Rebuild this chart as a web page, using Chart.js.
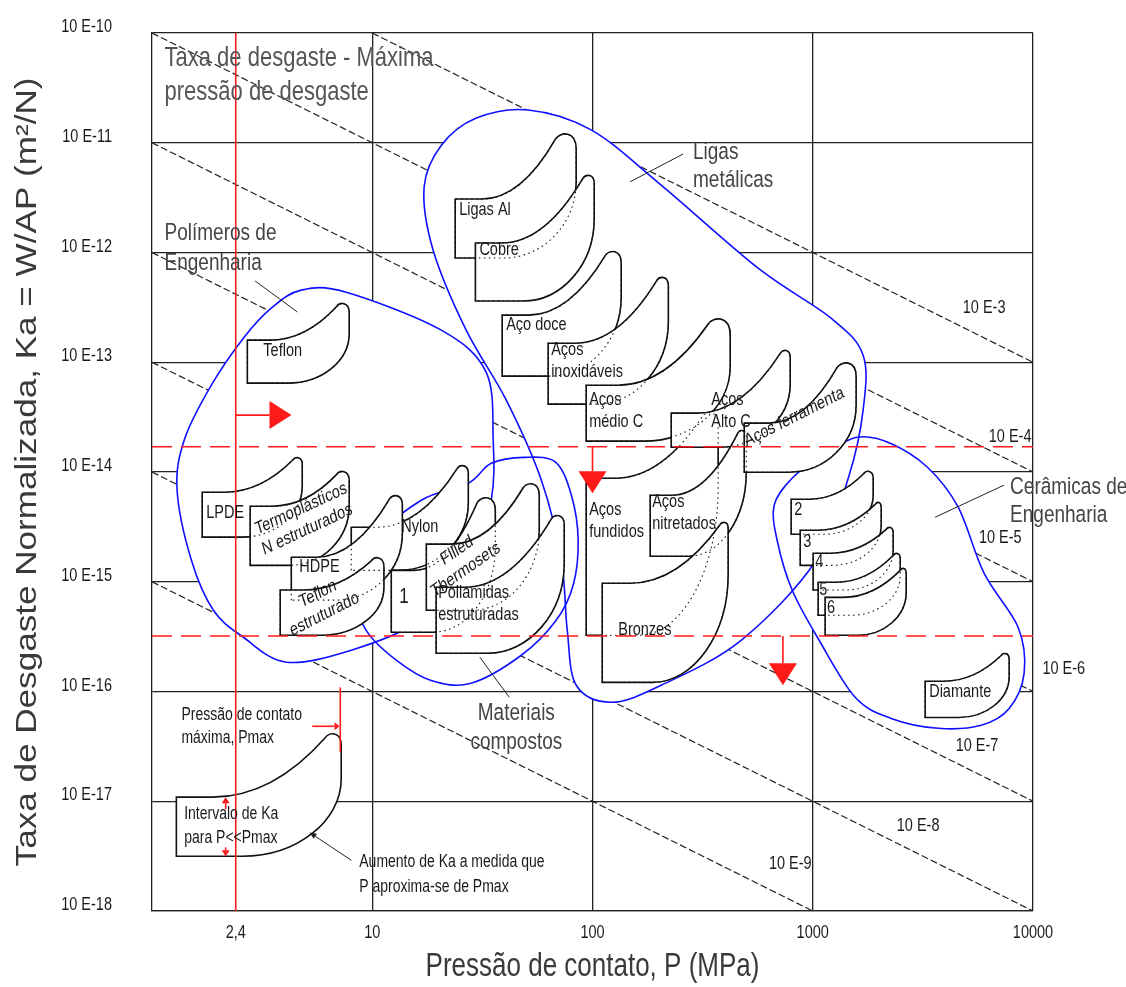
<!DOCTYPE html>
<html>
<head>
<meta charset="utf-8">
<script src="https://cdn.jsdelivr.net/npm/chart.js@4.4.1/dist/chart.umd.min.js"></script>
<style>
  body { margin: 0; background: #fff; }
</style>
</head>
<body>
<canvas id="chart" width="1126" height="987"></canvas>
<script>
const FONT = '"Liberation Sans", Arial, sans-serif';

// axes
const xTicks = [2.4, 10, 100, 1000, 10000];
const xTickLabels = ["2,4", "10", "100", "1000", "10000"];
const yTicks = [1e-10, 1e-11, 1e-12, 1e-13, 1e-14, 1e-15, 1e-16, 1e-17, 1e-18];
const yTickLabels = ["10 E-10", "10 E-11", "10 E-12", "10 E-13", "10 E-14", "10 E-15", "10 E-16", "10 E-17", "10 E-18"];

// lines of constant wear rate Ka*P
const isoLabels = ["10 E-3", "10 E-4", "10 E-5", "10 E-6", "10 E-7", "10 E-8", "10 E-9"];
const isoStart = [[10, 1e-10], [1, 1e-10], [1, 1e-11], [1, 1e-12], [1, 1e-13], [1, 1e-14], [1, 1e-15]];
const isoEnd = [[1e4, 1e-13], [1e4, 1e-14], [1e4, 1e-15], [1e4, 1e-16], [1e4, 1e-17], [1e4, 1e-18], [1000, 1e-18]];
const isoLabelAt = [[6000, 3.1e-13], [7870, 2.07e-14], [7100, 2.5e-15], [13800, 1.6e-16], [5570, 3.16e-17], [3010, 5.9e-18], [791, 2.66e-18]];

// materials (drawn back to front); first one is the key example
const materialLabels = ["", "Teflon", "LPDE", "Termoplásticos\nN estruturados", "Nylon", "HDPE", "Teflon\nestruturado", "1",
  "Filled\nThermosets", "Poliamidas\nestruturadas", "Ligas Al", "Cobre", "Aço doce", "Aços\ninoxidáveis", "Aços\nmédio C",
  "Aços\nfundidos", "Aços\nAlto C", "Aços\nnitretados", "Aços ferramenta", "Bronzes", "2", "3", "4", "5", "6", "Diamante"];
const pMin = [1.29, 2.71, 1.69, 2.79, 8.03, 4.29, 3.82, 12.2, 17.6, 19.5, 23.8, 29.4, 38.9, 62.9, 93.6, 93.6, 227.7, 182.8, 488.5, 110.7, 798, 877, 1004, 1058, 1138, 3239];
const pTip = [6.51, 7.23, 4.52, 7.23, 25.4, 12.6, 10.4, 32.2, 51.6, 68.4, 73.6, 94.6, 121.6, 205, 364.5, 335, 742, 473, 1389, 392, 1766, 1982, 2223, 2392, 2574, 7396];
const pMax = [7.23, 7.86, 4.81, 7.86, 27.3, 13.7, 11.3, 36.2, 57.3, 74.4, 84.3, 101.8, 135, 221, 421.9, 372, 790, 499, 1574, 413, 1881, 2045, 2318, 2495, 2656, 7793];
const kaTop = [1.09e-17, 1.59e-13, 6.54e-15, 4.88e-15, 3.14e-15, 1.67e-15, 8.4e-16, 1.27e-15, 2.2e-15, 8.9e-16, 3.07e-12, 1.22e-12, 2.69e-13, 1.49e-13, 6.18e-14, 8.77e-15, 3.44e-14, 6.14e-15, 2.79e-14, 9.7e-16, 5.65e-15, 2.95e-15, 1.82e-15, 9.9e-16, 7.2e-16, 1.24e-16];
const kaBot = [3.15e-18, 6.45e-14, 2.55e-15, 1.41e-15, 1.27e-15, 6.8e-16, 3.25e-16, 3.47e-16, 5.5e-16, 2.23e-16, 8.9e-13, 3.61e-13, 7.47e-14, 4.15e-14, 1.91e-14, 3.25e-16, 1.68e-14, 1.71e-15, 9.96e-15, 1.21e-16, 2.71e-15, 1.41e-15, 8.4e-16, 4.95e-16, 3.25e-16, 5.8e-17];
const kaTip = [4.16e-17, 3.46e-13, 1.36e-14, 1.02e-14, 1.15e-14, 6.14e-15, 1.67e-15, 5.89e-15, 7.9e-15, 4.04e-15, 1.22e-11, 5.08e-12, 1.03e-12, 5.97e-13, 2.52e-13, 3.51e-14, 1.29e-13, 2.4e-14, 1e-13, 3.49e-15, 1.02e-14, 5.31e-15, 3.14e-15, 1.82e-15, 1.33e-15, 2.23e-16];

// envelopes of material families, [P, Ka]
const ligasEnvelope = [[17.2, 3.95e-12], [20.6, 9.5e-12], [29.7, 1.68e-11], [51.1, 1.99e-11], [98.6, 1.31e-11], [205, 4.11e-12],
  [565, 7.2e-13], [1212, 2.52e-13], [1693, 1.16e-13], [1693, 3.66e-14], [1463, 9.35e-15], [1036, 1.57e-15], [473, 2.93e-16],
  [205, 1.14e-16], [121.7, 7.98e-17], [84.4, 1.14e-16], [76.8, 3.61e-16], [72.2, 1.57e-15], [58.6, 8.41e-15], [40.6, 4.51e-14],
  [26.7, 1.96e-13], [18.9, 1.05e-12]];
const polimerosEnvelope = [[4.76, 4.54e-13], [7.61, 4.35e-13], [20.6, 1.96e-13], [32.9, 8.12e-14], [35.4, 1.95e-14], [34.7, 5.53e-15],
  [28.1, 1.27e-15], [16.7, 4.46e-16], [8.03, 2.38e-16], [4.07, 1.85e-16], [2.6, 3.12e-16], [1.9, 5.5e-16], [1.51, 1.57e-15],
  [1.3, 6.82e-15], [1.4, 1.95e-14], [1.86, 6.18e-14], [2.62, 1.69e-13], [3.48, 3.11e-13]];
const compostosEnvelope = [[27.3, 7.9e-15], [34.7, 1.2e-14], [49, 1.36e-14], [67.9, 1.23e-14], [80.2, 6.14e-15], [86.1, 2.39e-15],
  [81.7, 9.3e-16], [68.4, 4.46e-16], [47.5, 2.14e-16], [28.1, 1.19e-16], [18.5, 1.26e-16], [12.9, 1.92e-16], [9.39, 3.61e-16],
  [8.73, 6.8e-16], [10.4, 2.39e-15], [16.7, 5.53e-15]];
const ceramicasEnvelope = [[1591, 2.07e-14], [2246, 1.83e-14], [3308, 1.11e-14], [4574, 4.78e-15], [6001, 1.19e-15], [8560, 3.85e-16],
  [9115, 1.47e-16], [7793, 7e-17], [5816, 4.92e-17], [3712, 4.62e-17], [2270, 5.69e-17], [1558, 8.85e-17], [1069, 2.93e-16],
  [806, 8.4e-16], [689, 2.39e-15], [668, 4.98e-15], [806, 8.77e-15], [1103, 1.42e-14]];

// notes and leader lines
const noteTexts = ["Taxa de desgaste - Máxima\npressão de desgaste", "Ligas\nmetálicas", "Polímeros de\nEngenharia",
  "Cerâmicas de\nEngenharia", "Materiais\ncompostos", "Pressão de contato\nmáxima, Pmax", "Intervalo de Ka\npara P<<Pmax",
  "Aumento de Ka a medida que\nP aproxima-se de Pmax"];
const noteAt = [[1.14, 5.9e-11], [286, 8.2e-12], [1.14, 1.5e-12], [7870, 7.3e-15], [45.1, 6.3e-17], [1.36, 6.1e-17], [1.4, 7.6e-18], [8.73, 2.77e-18]];
const leaderFrom = [[258, 7.9e-12], [2.94, 5.5e-13], [7396, 7.6e-15], [41.9, 8.85e-17], [8.05, 2.89e-18]];
const leaderTo = [[148, 4.4e-12], [4.57, 2.87e-13], [3594, 3.87e-15], [30.8, 2.05e-16], [5.19, 5.2e-18]];

// red limits
const pLimit = 2.4;
const kaLimits = [1.7e-14, 3.2e-16];
const arrowFrom = [[2.4, 3.3e-14], [100, 1.7e-14], [732, 3.2e-16]];
const arrowTo = [[4.3, 3.3e-14], [100, 6.4e-15], [732, 1.14e-16]];
const pmaxP = 7.16;
const pmaxKa = [1.09e-16, 2.79e-17];
const pmaxArrow = [[5.34, 4.82e-17], [7.1, 4.82e-17]];
const intervalP = 2.16;

// styles
const labelStyle = [null, [16, 11], [4, 21], [54, 13, -25], [50, 0], [8, 10], [41, 14, -27], [8, 27, 0, 17], [35, 16, -35],
  [2, 6], [4, 11], [4, 7], [4, 10], [3, 7], [3, 15], [3, 32], [40, -13], [2, 7], [50, -6, -27], [16, 47],
  [3, 11], [3, 12], [2, 9], [1, 8], [2, 11], [4, 11]];
const noteStyle = [
  { size: 22, lh: 34, color: "#555" }, { size: 19, lh: 28, color: "#444" }, { size: 19, lh: 30, color: "#444" },
  { size: 19, lh: 28, color: "#444" }, { size: 19, lh: 29, color: "#444", align: "center" },
  { size: 14, lh: 23 }, { size: 14, lh: 24 }, { size: 14, lh: 25 }];
const STRETCH = 1.25;

function drawText(ctx, str, x, y, o) {
  const s = o.stretch || STRETCH;
  const lines = str.split("\n");
  const a = ((o.angle || 0) * Math.PI) / 180;
  ctx.save();
  ctx.translate(x, y);
  ctx.scale(1, s);
  if (o.angle) ctx.rotate(Math.atan2(Math.sin(a), Math.cos(a) * s));
  ctx.font = `${o.size}px ${FONT}`;
  ctx.fillStyle = o.color || "#222";
  ctx.textAlign = o.align || "left";
  ctx.textBaseline = "middle";
  const lh = (o.lh || o.size * 1.4) / s;
  const off = o.center ? (-(lines.length - 1) * lh) / 2 : 0;
  lines.forEach((t, i) => ctx.fillText(t, 0, off + i * lh));
  ctx.restore();
}

function closedCurve(ctx, pts) {
  const n = pts.length;
  ctx.moveTo(pts[0][0], pts[0][1]);
  for (let i = 0; i < n; i++) {
    const p0 = pts[(i - 1 + n) % n], p1 = pts[i], p2 = pts[(i + 1) % n], p3 = pts[(i + 2) % n];
    ctx.bezierCurveTo(p1[0] + (p2[0] - p0[0]) / 6, p1[1] + (p2[1] - p0[1]) / 6,
      p2[0] - (p3[0] - p1[0]) / 6, p2[1] - (p3[1] - p1[1]) / 6, p2[0], p2[1]);
  }
  ctx.closePath();
}

function bananaPath(ctx, X, Y, i) {
  const xL = X(pMin[i]), xT = X(pTip[i]), xR = X(pMax[i]);
  const yT = Y(kaTop[i]), yB = Y(kaBot[i]), yP = Y(kaTip[i]);
  const w = xR - xL;
  const xa = xL + 0.22 * w, xb = xL + 0.4 * w;
  const r = Math.max(xR - xT, 5);
  const ex = xT - 0.6 * r, ey = yP + 0.45 * r;
  const yR = yP + 1.2 * r + 0.3 * (yB - yP - 1.2 * r);
  ctx.beginPath();
  ctx.moveTo(xL, yB);
  ctx.lineTo(xL, yT);
  ctx.lineTo(xa, yT);
  ctx.bezierCurveTo(xa + 0.4 * (ex - xa), yT, xa + 0.72 * (ex - xa), yT - 0.4 * (yT - ey), ex, ey);
  ctx.bezierCurveTo(xT - 0.2 * r, yP - 0.15 * r, xR, yP - 0.2 * r, xR, yP + 1.2 * r);
  ctx.lineTo(xR, yR);
  ctx.bezierCurveTo(xR, yR + 0.55 * (yB - yR), xR - 0.45 * (xR - xb), yB, xb, yB);
  ctx.closePath();
}

function arrow(ctx, x1, y1, x2, y2, len, half) {
  const a = Math.atan2(y2 - y1, x2 - x1);
  const bx = x2 - len * Math.cos(a), by = y2 - len * Math.sin(a);
  ctx.beginPath();
  ctx.moveTo(x1, y1);
  ctx.lineTo(bx, by);
  ctx.stroke();
  ctx.beginPath();
  ctx.moveTo(x2, y2);
  ctx.lineTo(bx + half * Math.sin(a), by - half * Math.cos(a));
  ctx.lineTo(bx - half * Math.sin(a), by + half * Math.cos(a));
  ctx.closePath();
  ctx.fill();
}

const overlay = {
  id: "overlay",
  afterDatasetsDraw(chart) {
    const ctx = chart.ctx;
    const area = chart.chartArea;
    const X = (p) => chart.scales.x.getPixelForValue(p);
    const Y = (k) => chart.scales.y.getPixelForValue(k);
    const toPx = (pts) => pts.map(([p, k]) => [X(p), Y(k)]);
    ctx.save();

    // family envelopes: white inside, blue outline
    const envelopes = [ligasEnvelope, polimerosEnvelope, compostosEnvelope, ceramicasEnvelope];
    envelopes.forEach((env) => {
      ctx.beginPath();
      closedCurve(ctx, toPx(env));
      ctx.fillStyle = "#fff";
      ctx.fill();
    });
    envelopes.forEach((env) => {
      ctx.beginPath();
      closedCurve(ctx, toPx(env));
      ctx.strokeStyle = "#1010ff";
      ctx.lineWidth = 1.6;
      ctx.stroke();
    });

    // material bubbles
    materialLabels.forEach((_, i) => {
      bananaPath(ctx, X, Y, i);
      ctx.fillStyle = "#fff";
      ctx.fill();
      ctx.strokeStyle = "#111";
      ctx.lineWidth = 1.6;
      ctx.stroke();
    });
    // hidden edges dotted
    ctx.setLineDash([1.5, 3.5]);
    ctx.lineWidth = 1.1;
    materialLabels.forEach((_, i) => {
      if (i === 0) return;
      bananaPath(ctx, X, Y, i);
      ctx.stroke();
    });
    ctx.setLineDash([]);

    // leader lines
    ctx.strokeStyle = "#222";
    ctx.fillStyle = "#222";
    ctx.lineWidth = 1;
    leaderFrom.forEach((f, i) => {
      const t = leaderTo[i];
      if (i === leaderFrom.length - 1) {
        arrow(ctx, X(f[0]), Y(f[1]), X(t[0]), Y(t[1]), 7, 3);
      } else {
        ctx.beginPath();
        ctx.moveTo(X(f[0]), Y(f[1]));
        ctx.lineTo(X(t[0]), Y(t[1]));
        ctx.stroke();
      }
    });

    // red limits
    ctx.strokeStyle = "#ff1a1a";
    ctx.fillStyle = "#ff1a1a";
    ctx.lineWidth = 1.6;
    ctx.beginPath();
    ctx.moveTo(X(pLimit), area.top);
    ctx.lineTo(X(pLimit), area.bottom);
    ctx.stroke();
    ctx.setLineDash([20, 9]);
    kaLimits.forEach((k) => {
      ctx.beginPath();
      ctx.moveTo(area.left, Y(k));
      ctx.lineTo(area.right, Y(k));
      ctx.stroke();
    });
    ctx.setLineDash([]);
    arrowFrom.forEach((f, i) => {
      const t = arrowTo[i];
      arrow(ctx, X(f[0]), Y(f[1]), X(t[0]), Y(t[1]), 22, 14);
    });
    // key: Pmax and Ka interval marks
    ctx.beginPath();
    ctx.moveTo(X(pmaxP), Y(pmaxKa[0]));
    ctx.lineTo(X(pmaxP), Y(pmaxKa[1]));
    ctx.stroke();
    arrow(ctx, X(pmaxArrow[0][0]), Y(pmaxArrow[0][1]), X(pmaxArrow[1][0]), Y(pmaxArrow[1][1]), 5, 4);
    arrow(ctx, X(intervalP), Y(kaTop[0]) + 12, X(intervalP), Y(kaTop[0]), 6, 4);
    arrow(ctx, X(intervalP), Y(kaBot[0]) - 9, X(intervalP), Y(kaBot[0]), 6, 4);

    // material labels
    materialLabels.forEach((txt, i) => {
      const st = labelStyle[i];
      if (!txt || !st) return;
      const x = X(pMin[i]) + st[0], y = Y(kaTop[i]) + st[1];
      const rot = st[2] || 0;
      drawText(ctx, txt, x, y, { size: st[3] || 14.5, lh: 22, angle: rot, align: rot ? "center" : "left", center: !!rot, color: "#1a1a1a" });
    });

    // notes
    noteTexts.forEach((txt, i) => {
      const st = noteStyle[i];
      drawText(ctx, txt, X(noteAt[i][0]), Y(noteAt[i][1]), Object.assign({ color: "#1a1a1a" }, st));
    });

    // iso labels
    isoLabels.forEach((txt, i) => {
      drawText(ctx, txt, X(isoLabelAt[i][0]), Y(isoLabelAt[i][1]), { size: 14.5, align: "center", color: "#1a1a1a" });
    });

    // tick labels
    yTicks.forEach((v, i) => {
      drawText(ctx, yTickLabels[i], area.left - 40, Y(v) - 6, { size: 14.5, align: "right", color: "#1a1a1a" });
    });
    xTicks.forEach((v, i) => {
      drawText(ctx, xTickLabels[i], X(v), area.bottom + 22, { size: 14.5, align: "center", color: "#1a1a1a" });
    });

    // axis titles
    drawText(ctx, "Pressão de contato, P (MPa)", (area.left + area.right) / 2, area.bottom + 56, { size: 26, align: "center", color: "#3a3a3a" });
    drawText(ctx, "Taxa de Desgaste Normalizada, Ka = W/AP (m²/N)", 28, (area.top + area.bottom) / 2,
      { size: 29, align: "center", angle: -90, stretch: 1.21, color: "#3a3a3a" });
    ctx.restore();
  },
};

new Chart(document.getElementById("chart"), {
  type: "scatter",
  data: {
    datasets: isoLabels.map((label, i) => ({
      label,
      data: [{ x: isoStart[i][0], y: isoStart[i][1] }, { x: isoEnd[i][0], y: isoEnd[i][1] }],
      showLine: true,
      borderColor: "#222",
      borderWidth: 1.2,
      borderDash: [7, 3],
      pointRadius: 0,
    })),
  },
  options: {
    responsive: false,
    animation: false,
    layout: { padding: { top: 33, right: 93, left: 0, bottom: 0 } },
    plugins: { legend: { display: false }, tooltip: { enabled: false } },
    scales: {
      x: {
        type: "logarithmic",
        min: 1,
        max: 10000,
        afterBuildTicks: (s) => { s.ticks = xTicks.map((v) => ({ value: v })); },
        afterFit: (s) => { s.height = 76; },
        ticks: { display: false },
        grid: {
          color: (c) => (c.tick && c.tick.value === 2.4 ? "rgba(0,0,0,0)" : "#222"),
          lineWidth: 1.3,
          drawTicks: false,
        },
        border: { color: "#222", width: 1.3 },
      },
      y: {
        type: "logarithmic",
        min: 1e-18,
        max: 1e-10,
        afterBuildTicks: (s) => { s.ticks = yTicks.map((v) => ({ value: v })); },
        afterFit: (s) => { s.width = 152; },
        ticks: { display: false },
        grid: { color: "#222", lineWidth: 1.3, drawTicks: false },
        border: { color: "#222", width: 1.3 },
      },
    },
  },
  plugins: [overlay],
});
</script>
</body>
</html>
